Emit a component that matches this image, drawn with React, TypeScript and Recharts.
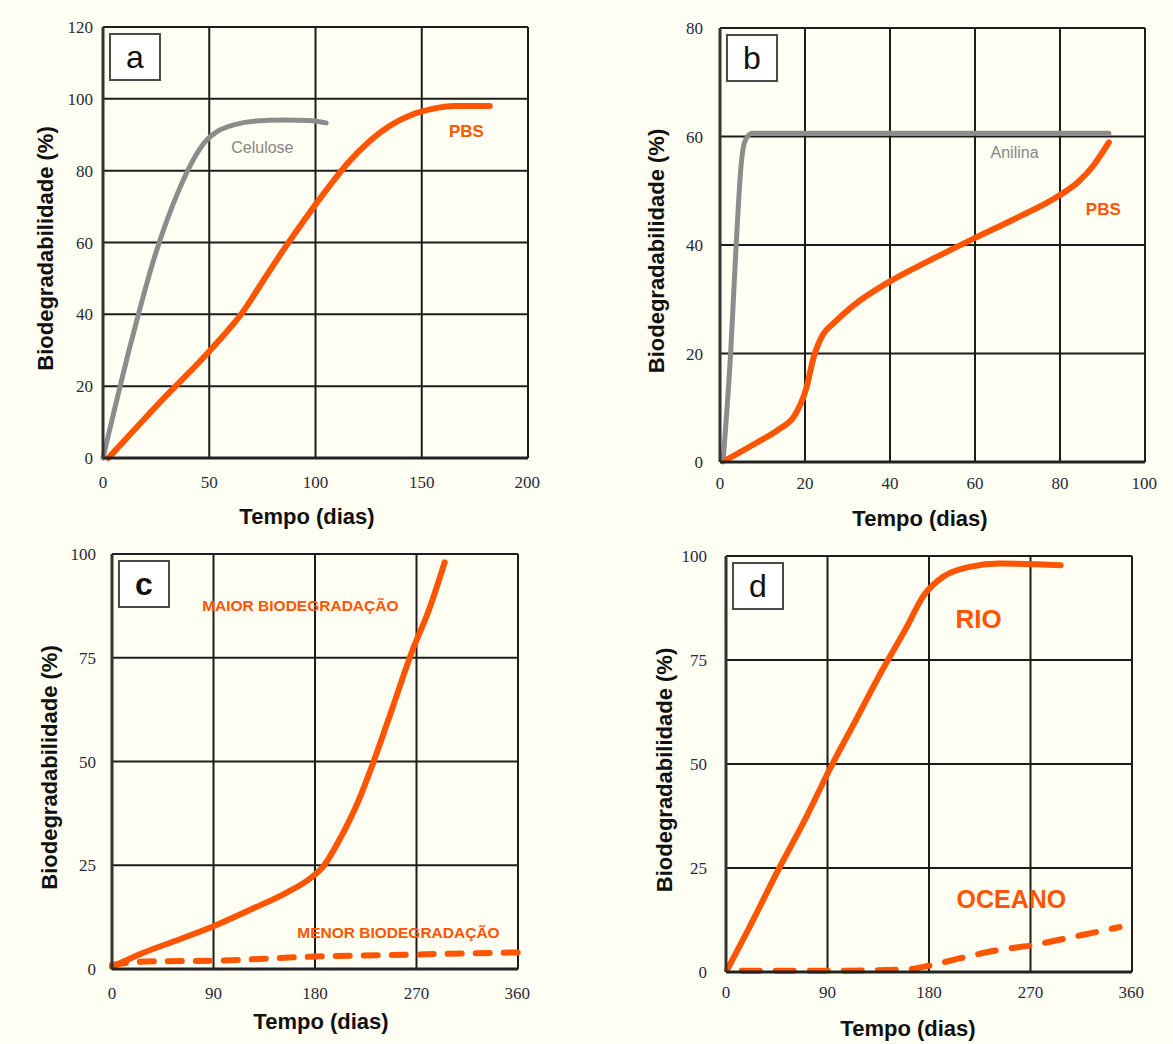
import { CartesianGrid, Line, LineChart, ReferenceDot, XAxis, YAxis } from 'recharts';

type Pt = { x: number; y: number };

// (a) PBS vs celulose, 0–200 dias
const aCelulose: Pt[] = [
  { x: 0, y: 0 }, { x: 6, y: 15 }, { x: 12, y: 29.5 }, { x: 18, y: 43 }, { x: 24, y: 55.5 },
  { x: 30, y: 66 }, { x: 36, y: 75 }, { x: 42, y: 82.5 }, { x: 48, y: 88 }, { x: 54, y: 91 },
  { x: 62, y: 92.8 }, { x: 72, y: 93.8 }, { x: 85, y: 94.1 }, { x: 97, y: 94 }, { x: 105, y: 93.3 },
];
const aPbs: Pt[] = [
  { x: 2.5, y: 0 }, { x: 15, y: 8 }, { x: 30, y: 17.5 }, { x: 45, y: 26.5 }, { x: 55, y: 33 },
  { x: 65, y: 40 }, { x: 75, y: 49 }, { x: 85, y: 58 }, { x: 95, y: 66.5 }, { x: 105, y: 74.5 },
  { x: 115, y: 82 }, { x: 125, y: 88 }, { x: 135, y: 92.5 }, { x: 145, y: 95.5 }, { x: 155, y: 97.2 },
  { x: 165, y: 98 }, { x: 182, y: 98 },
];
const aXTicks = [0, 50, 100, 150, 200];
const aYTicks = [0, 20, 40, 60, 80, 100, 120];

// (b) PBS vs anilina, 0–100 dias
const bAnilina: Pt[] = [
  { x: 0.7, y: 0 }, { x: 2.5, y: 20 }, { x: 3.8, y: 40 }, { x: 5, y: 55 }, { x: 5.8, y: 59 },
  { x: 7.5, y: 60.6 }, { x: 50, y: 60.6 }, { x: 91.5, y: 60.6 },
];
const bPbs: Pt[] = [
  { x: 1.5, y: 0.4 }, { x: 8.7, y: 3.6 }, { x: 14, y: 6.1 }, { x: 17.6, y: 8.6 }, { x: 20.3, y: 13.6 },
  { x: 22, y: 19.2 }, { x: 24.3, y: 23.6 }, { x: 26.5, y: 25.4 }, { x: 31, y: 28.6 }, { x: 40, y: 33.3 },
  { x: 49.7, y: 37.3 }, { x: 59.2, y: 41 }, { x: 69.3, y: 44.8 }, { x: 80, y: 49.2 }, { x: 84.4, y: 51.7 },
  { x: 88, y: 54.8 }, { x: 91.5, y: 58.9 },
];
const bXTicks = [0, 20, 40, 60, 80, 100];
const bYTicks = [0, 20, 40, 60, 80];

// (c) maior / menor biodegradação, 0–360 dias
const cMaior: Pt[] = [
  { x: 0, y: 0.5 }, { x: 27.8, y: 3.9 }, { x: 59.5, y: 7.1 }, { x: 90, y: 10.3 }, { x: 122.7, y: 14.3 },
  { x: 154, y: 18.3 }, { x: 176.5, y: 22 }, { x: 187.6, y: 24.8 }, { x: 201.8, y: 31.2 }, { x: 217.7, y: 40 },
  { x: 232, y: 50 }, { x: 249.3, y: 63.4 }, { x: 266, y: 76.5 }, { x: 281, y: 86.5 }, { x: 295, y: 98 },
];
const cMenor: Pt[] = [
  { x: 0, y: 1 }, { x: 30, y: 1.8 }, { x: 90, y: 2 }, { x: 180, y: 3 }, { x: 270, y: 3.5 }, { x: 360, y: 4 },
];
const cdXTicks = [0, 90, 180, 270, 360];
const cdYTicks = [0, 25, 50, 75, 100];

// (d) rio / oceano, 0–360 dias
const dRio: Pt[] = [
  { x: 1, y: 0.5 }, { x: 20.9, y: 10.8 }, { x: 47.8, y: 25.3 }, { x: 71.3, y: 37.3 }, { x: 91.5, y: 48.5 },
  { x: 115, y: 60.5 }, { x: 138.6, y: 72.6 }, { x: 158.8, y: 82.2 }, { x: 175.6, y: 90.6 }, { x: 192.5, y: 95 },
  { x: 216, y: 97.4 }, { x: 243, y: 98.2 }, { x: 296.8, y: 97.8 },
];
const dOceano: Pt[] = [
  { x: 14, y: 0.3 }, { x: 90, y: 0.3 }, { x: 158.8, y: 0.6 }, { x: 180, y: 1.5 }, { x: 206, y: 3.2 },
  { x: 239.6, y: 5.2 }, { x: 270.5, y: 6.4 }, { x: 307, y: 8.4 }, { x: 349, y: 10.8 },
];

const ORANGE = '#ff5500';
const GRAY = '#8c8c8c';
const BG = '#fffef2';
const TICK_FONT = '"Liberation Serif", serif';
const SANS = 'Liberation Sans, Arial, sans-serif';

interface Series {
  data: Pt[];
  color: string;
  width: number;
  dash?: string;
}
interface Note {
  x: number;
  y: number;
  text: string;
  color: string;
  size: number;
  weight: number | string;
}
interface PanelProps {
  letter: string;
  letterBold?: boolean;
  plot: { left: number; top: number; right: number; bottom: number };
  xMax: number;
  yMax: number;
  xTicks: number[];
  yTicks: number[];
  series: Series[];
  notes: Note[];
  yTitleGap: number;
  xTitle: { cx: number; y: number };
  xTickMargin: number;
  yTickMargin: number;
}

const YW = 90;
const MT = 10;
const MR = 12;
const XH = 75;

function Panel(p: PanelProps) {
  const plotW = p.plot.right - p.plot.left;
  const plotH = p.plot.bottom - p.plot.top;
  const w = YW + plotW + MR;
  const h = MT + plotH + XH;
  const yTitleX = YW - p.yTitleGap;
  const yTitleY = MT + plotH / 2 + 6;
  const xTitleX = YW + (p.xTitle.cx - p.plot.left);
  const xTitleY = MT + plotH + (p.xTitle.y - p.plot.bottom);
  return (
    <>
      <div style={{ position: 'absolute', left: p.plot.left - YW, top: p.plot.top - MT }}>
        <LineChart width={w} height={h} margin={{ top: MT, right: MR, bottom: 0, left: 0 }}>
          <CartesianGrid stroke="#1c1c1c" strokeWidth={2} fill={BG} />
          <XAxis
            dataKey="x"
            type="number"
            domain={[0, p.xMax]}
            ticks={p.xTicks}
            height={XH}
            tickLine={false}
            tickMargin={p.xTickMargin}
            axisLine={{ stroke: '#222', strokeWidth: 3 }}
            tick={{ fill: '#262a3a', fontSize: 17, fontFamily: TICK_FONT }}
            label={{
              content: () => (
                <text x={xTitleX} y={xTitleY} textAnchor="middle" dominantBaseline="central" fontFamily={SANS} fontWeight="bold" fontSize={22} fill="#111">
                  Tempo (dias)
                </text>
              ),
            }}
          />
          <YAxis
            type="number"
            domain={[0, p.yMax]}
            ticks={p.yTicks}
            width={YW}
            tickLine={false}
            tickMargin={p.yTickMargin}
            axisLine={{ stroke: '#333', strokeWidth: 3 }}
            tick={{ fill: '#262a3a', fontSize: 17, fontFamily: TICK_FONT }}
            label={{
              content: () => (
                <text x={yTitleX} y={yTitleY} transform={`rotate(-90 ${yTitleX} ${yTitleY})`} textAnchor="middle" dominantBaseline="central" fontFamily={SANS} fontWeight="bold" fontSize={22} fill="#111">
                  Biodegradabilidade (%)
                </text>
              ),
            }}
          />
          {p.series.map((s, i) => (
            <Line
              key={i}
              data={s.data}
              dataKey="y"
              type="monotone"
              stroke={s.color}
              strokeWidth={s.width}
              strokeDasharray={s.dash}
              strokeLinecap="round"
              dot={false}
              activeDot={false}
              isAnimationActive={false}
            />
          ))}
          {p.notes.map((n, i) => (
            <ReferenceDot
              key={`n${i}`}
              x={n.x}
              y={n.y}
              r={0}
              fill="none"
              stroke="none"
              label={{ value: n.text, position: 'center', fill: n.color, fontSize: n.size, fontWeight: n.weight, fontFamily: SANS }}
            />
          ))}
        </LineChart>
      </div>
      <div
        style={{
          position: 'absolute',
          left: p.plot.left + 6,
          top: p.plot.top + 6,
          width: 52,
          height: 48,
          boxSizing: 'border-box',
          border: '2px solid #4a4a4a',
          background: '#ffffff',
          display: 'flex',
          alignItems: 'center',
          justifyContent: 'center',
          fontFamily: SANS,
          fontSize: 32,
          fontWeight: p.letterBold ? 'bold' : 'normal',
          color: '#111',
          lineHeight: 1,
        }}
      >
        {p.letter}
      </div>
    </>
  );
}

export default function App() {
  return (
    <div style={{ position: 'absolute', left: 0, top: 0, width: 1173, height: 1044, background: BG, overflow: 'hidden' }}>
      <Panel
        letter="a"
        plot={{ left: 103, top: 27, right: 528, bottom: 458 }}
        xMax={200}
        yMax={120}
        xTicks={aXTicks}
        yTicks={aYTicks}
        series={[
          { data: aCelulose, color: GRAY, width: 5 },
          { data: aPbs, color: ORANGE, width: 6 },
        ]}
        notes={[
          { x: 75, y: 86.5, text: 'Celulose', color: '#858585', size: 16, weight: 'normal' },
          { x: 171, y: 91, text: 'PBS', color: ORANGE, size: 17, weight: 'bold' },
        ]}
        yTitleGap={58}
        xTitle={{ cx: 307, y: 516 }}
        xTickMargin={12}
        yTickMargin={4}
      />
      <Panel
        letter="b"
        plot={{ left: 720, top: 28, right: 1145, bottom: 462 }}
        xMax={100}
        yMax={80}
        xTicks={bXTicks}
        yTicks={bYTicks}
        series={[
          { data: bAnilina, color: GRAY, width: 5 },
          { data: bPbs, color: ORANGE, width: 6 },
        ]}
        notes={[
          { x: 69.3, y: 57, text: 'Anilina', color: '#858585', size: 16, weight: 'normal' },
          { x: 90.2, y: 46.7, text: 'PBS', color: ORANGE, size: 17, weight: 'bold' },
        ]}
        yTitleGap={64}
        xTitle={{ cx: 920, y: 518 }}
        xTickMargin={9}
        yTickMargin={11}
      />
      <Panel
        letter="c"
        letterBold
        plot={{ left: 112, top: 554, right: 518, bottom: 969 }}
        xMax={360}
        yMax={100}
        xTicks={cdXTicks}
        yTicks={cdYTicks}
        series={[
          { data: cMaior, color: ORANGE, width: 6 },
          { data: cMenor, color: ORANGE, width: 6, dash: '14 14' },
        ]}
        notes={[
          { x: 167, y: 87.7, text: 'MAIOR BIODEGRADAÇÃO', color: ORANGE, size: 15.5, weight: 'bold' },
          { x: 254, y: 8.7, text: 'MENOR BIODEGRADAÇÃO', color: ORANGE, size: 15.5, weight: 'bold' },
        ]}
        yTitleGap={63}
        xTitle={{ cx: 321, y: 1021 }}
        xTickMargin={12}
        yTickMargin={10}
      />
      <Panel
        letter="d"
        plot={{ left: 726, top: 556, right: 1132, bottom: 972 }}
        xMax={360}
        yMax={100}
        xTicks={cdXTicks}
        yTicks={cdYTicks}
        series={[
          { data: dRio, color: ORANGE, width: 6 },
          { data: dOceano, color: ORANGE, width: 6, dash: '18 16' },
        ]}
        notes={[
          { x: 224, y: 85, text: 'RIO', color: ORANGE, size: 26, weight: 600 },
          { x: 253, y: 17.6, text: 'OCEANO', color: ORANGE, size: 25, weight: 600 },
        ]}
        yTitleGap={62}
        xTitle={{ cx: 908, y: 1028 }}
        xTickMargin={8}
        yTickMargin={13}
      />
    </div>
  );
}
